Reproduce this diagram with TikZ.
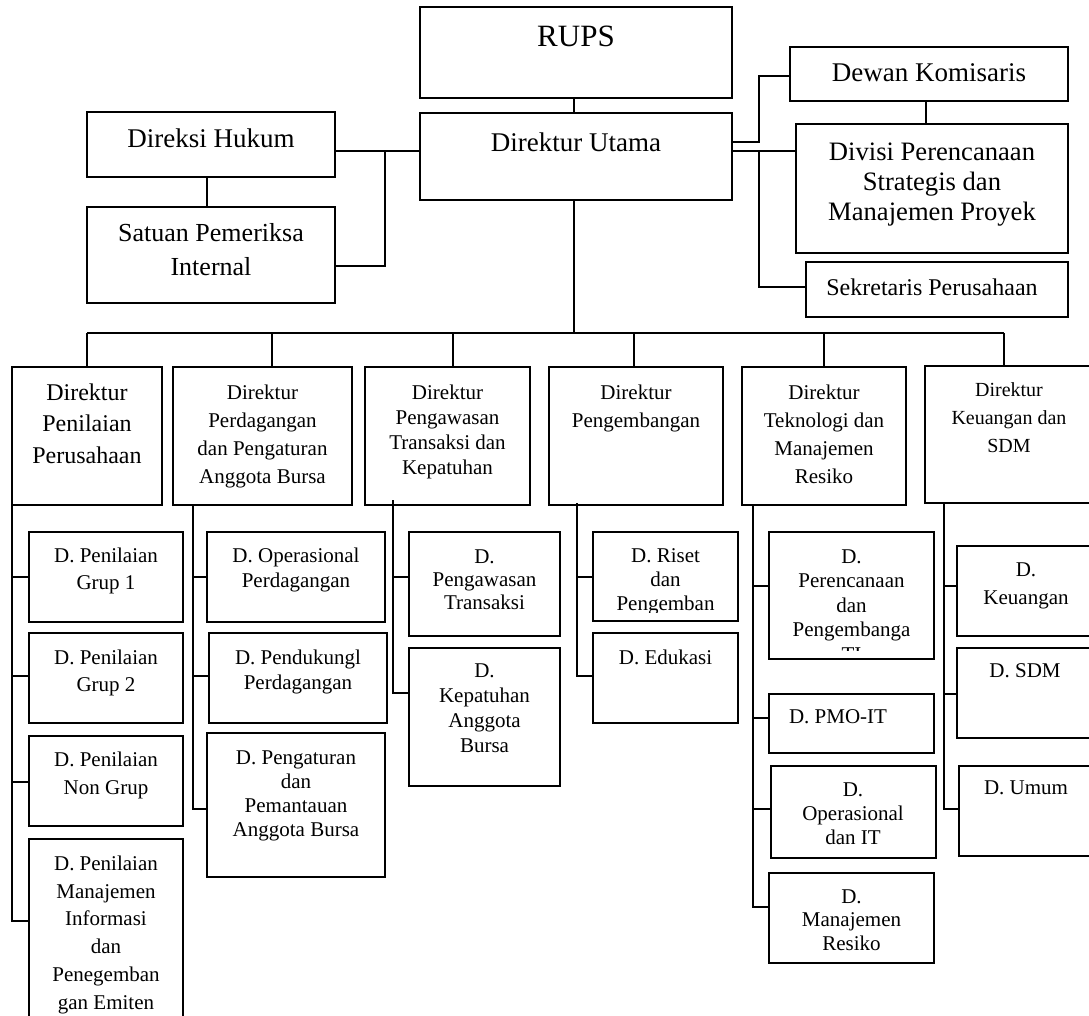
\documentclass[tikz,border=0pt]{standalone}
\usepackage{fontspec}
\setmainfont{Liberation Serif}
\newcommand\obox[5]{\node[orgbox, minimum width={#4-#2}, minimum height={#5-#3}, anchor=north west] (#1) at (#2,#3) {};}
\newcommand\otxt[6]{\node[otxt, font=\fontsize{#4}{#5}\selectfont] (#1) at ({#2},{#3-0.35*#4}) {#6};}
\begin{document}
\begin{tikzpicture}[x=1pt,y=-1pt,
  orgbox/.style={draw, line width=2pt, inner sep=0pt, outer sep=0pt},
  otxt/.style={align=center, inner sep=0pt, outer sep=0pt, anchor=north},
  link/.style={line width=1.9pt}]
\path[use as bounding box, fill=white] (0,0) rectangle (1089,1015);
\clip (0,0) rectangle (1089,1015);

% ---------- top level ----------
\obox{rups}{420}{7}{732}{98}
\otxt{rupst}{576}{37}{31}{36}{RUPS}
\obox{du}{420}{113}{732}{200}
\otxt{dut}{576}{142}{27}{32}{Direktur Utama}
\obox{dh}{87}{112}{335}{177}
\otxt{dht}{211}{138}{27}{32}{Direksi Hukum}
\obox{spi}{87}{207}{335}{303}
\otxt{spit}{211}{233}{26}{34}{Satuan Pemeriksa\\Internal}
\obox{dk}{790}{47}{1068}{101}
\otxt{dkt}{929}{73}{27}{32}{Dewan Komisaris}
\obox{dps}{796}{124}{1068}{253}
\otxt{dpst}{932}{152}{26.6}{30}{Divisi Perencanaan\\Strategis dan\\Manajemen Proyek}
\obox{sp}{806}{262}{1068}{317}
\otxt{spt}{932}{287}{24}{28}{Sekretaris Perusahaan}

\coordinate (jL) at (385,151);
\coordinate (jR) at (759,76);
\coordinate (jR2) at (759,151);
\coordinate (bar) at (574,333);
\draw[link] (rups.south -| bar) -- (du.north -| bar);
\draw[link] (dh.east |- jL) -- (du.west |- jL);
\draw[link] (jL) |- (spi.east |- 0,266);
\draw[link] (dh.south -| 207,0) -- (spi.north -| 207,0);
\draw[link] (du.east |- 0,142) -| (jR) -- (dk.west |- jR);
\draw[link] (du.east |- jR2) -- (dps.west |- jR2);
\draw[link] (jR2) |- (sp.west |- 0,287);
\draw[link] (dk.south -| 926,0) -- (dps.north -| 926,0);
\draw[link] (du.south -| bar) -- (bar);
\draw[link] (87,333) coordinate (barL) -- (1004,333) coordinate (barR);

% ---------- directors ----------
\obox{dpp}{12}{367}{162}{505}
\otxt{dppt}{87}{392}{24}{31.5}{Direktur\\Penilaian\\Perusahaan}
\obox{dpa}{173}{367}{352}{505}
\otxt{dpat}{262.5}{392}{21}{28}{Direktur\\Perdagangan\\dan Pengaturan\\Anggota Bursa}
\obox{dpt}{365}{367}{530}{505}
\otxt{dptt}{447.5}{392}{21}{25}{Direktur\\Pengawasan\\Transaksi dan\\Kepatuhan}
\obox{dpg}{549}{367}{723}{505}
\otxt{dpgt}{636}{392}{21}{28}{Direktur\\Pengembangan}
\obox{dtm}{742}{367}{906}{505}
\otxt{dtmt}{824}{392}{21}{28}{Direktur\\Teknologi dan\\Manajemen\\Resiko}
\obox{dks}{925}{366}{1095}{503}
\otxt{dkst}{1009}{390}{20}{28}{Direktur\\Keuangan dan\\SDM}

\foreach \x/\n in {87/dpp,272/dpa,453/dpt,634/dpg,824/dtm,1004/dks}
  \draw[link] (\x,333) -- (\n.north -| \x,0);

% ---------- column 1 ----------
\obox{c11}{29}{532}{183}{622}
\otxt{c11t}{106}{555}{21}{27}{D. Penilaian\\Grup 1}
\obox{c12}{29}{633}{183}{723}
\otxt{c12t}{106}{657}{21}{27}{D. Penilaian\\Grup 2}
\obox{c13}{29}{736}{183}{826}
\otxt{c13t}{106}{759}{21}{28}{D. Penilaian\\Non Grup}
\obox{c14}{29}{839}{183}{1040}
\otxt{c14t}{106}{863}{21}{27.8}{D. Penilaian\\Manajemen\\Informasi\\dan\\Penegemban\\gan Emiten}
\coordinate (t1) at (12,505);
\draw[link] (t1) |- (c14.west |- 0,921);
\draw[link] (t1 |- 0,577) -- (c11.west |- 0,577);
\draw[link] (t1 |- 0,676) -- (c12.west |- 0,676);
\draw[link] (t1 |- 0,782) -- (c13.west |- 0,782);

% ---------- column 2 ----------
\obox{c21}{207}{532}{385}{622}
\otxt{c21t}{296}{555}{21}{25}{D. Operasional\\Perdagangan}
\obox{c22}{209}{633}{387}{723}
\otxt{c22t}{298}{657}{21}{25}{D. Pendukungl\\Perdagangan}
\obox{c23}{207}{733}{385}{877}
\otxt{c23t}{296}{758}{21}{24}{D. Pengaturan\\dan\\Pemantauan\\Anggota Bursa}
\coordinate (t2) at (193,505);
\draw[link] (t2) |- (c23.west |- 0,809);
\draw[link] (t2 |- 0,577) -- (c21.west |- 0,577);
\draw[link] (t2 |- 0,676) -- (c22.west |- 0,676);

% ---------- column 3 ----------
\obox{c31}{409}{532}{560}{636}
\otxt{c31t}{484.5}{557}{21}{23}{D.\\Pengawasan\\Transaksi}
\obox{c32}{409}{648}{560}{786}
\otxt{c32t}{484.5}{671}{21}{25}{D.\\Kepatuhan\\Anggota\\Bursa}
\coordinate (t3) at (393,500);
\draw[link] (t3) |- (c32.west |- 0,693);
\draw[link] (t3 |- 0,577) -- (c31.west |- 0,577);

% ---------- column 4 ----------
\obox{c41}{593}{532}{738}{621}
\begin{scope}
  \clip (593,532) rectangle (738,612);
  \otxt{c41t}{665.5}{556}{21}{24}{D. Riset\\dan\\Pengemban}
\end{scope}
\obox{c42}{593}{633}{738}{723}
\otxt{c42t}{665.5}{657}{21}{25}{D. Edukasi}
\coordinate (t4) at (577,503);
\draw[link] (t4) |- (c42.west |- 0,676);
\draw[link] (t4 |- 0,577) -- (c41.west |- 0,577);

% ---------- column 5 ----------
\obox{c51}{769}{532}{934}{659}
\begin{scope}
  \clip (769,532) rectangle (934,650);
  \otxt{c51t}{851.5}{557}{21}{24.5}{D.\\Perencanaan\\dan\\Pengembanga\\TI}
\end{scope}
\obox{c52}{769}{694}{934}{753}
\otxt{c52t}{838}{717}{21}{25}{D. PMO-IT}
\obox{c53}{771}{766}{936}{858}
\otxt{c53t}{853}{790}{21}{24}{D.\\Operasional\\dan IT}
\obox{c54}{769}{873}{934}{963}
\otxt{c54t}{851.5}{897}{21}{23.5}{D.\\Manajemen\\Resiko}
\coordinate (t5) at (753,505);
\draw[link] (t5) |- (c54.west |- 0,907);
\draw[link] (t5 |- 0,586) -- (c51.west |- 0,586);
\draw[link] (t5 |- 0,718) -- (c52.west |- 0,718);
\draw[link] (t5 |- 0,809) -- (c53.west |- 0,809);

% ---------- column 6 ----------
\obox{c61}{957}{546}{1095}{636}
\otxt{c61t}{1026}{570}{21}{28}{D.\\Keuangan}
\obox{c62}{957}{648}{1095}{738}
\otxt{c62t}{1025}{671}{21}{25}{D. SDM}
\obox{c63}{959}{766}{1095}{856}
\otxt{c63t}{1026}{788}{21}{25}{D. Umum}
\coordinate (t6) at (944,503);
\draw[link] (t6) |- (c63.west |- 0,809);
\draw[link] (t6 |- 0,586) -- (c61.west |- 0,586);
\draw[link] (t6 |- 0,694) -- (c62.west |- 0,694);
\end{tikzpicture}
\end{document}
